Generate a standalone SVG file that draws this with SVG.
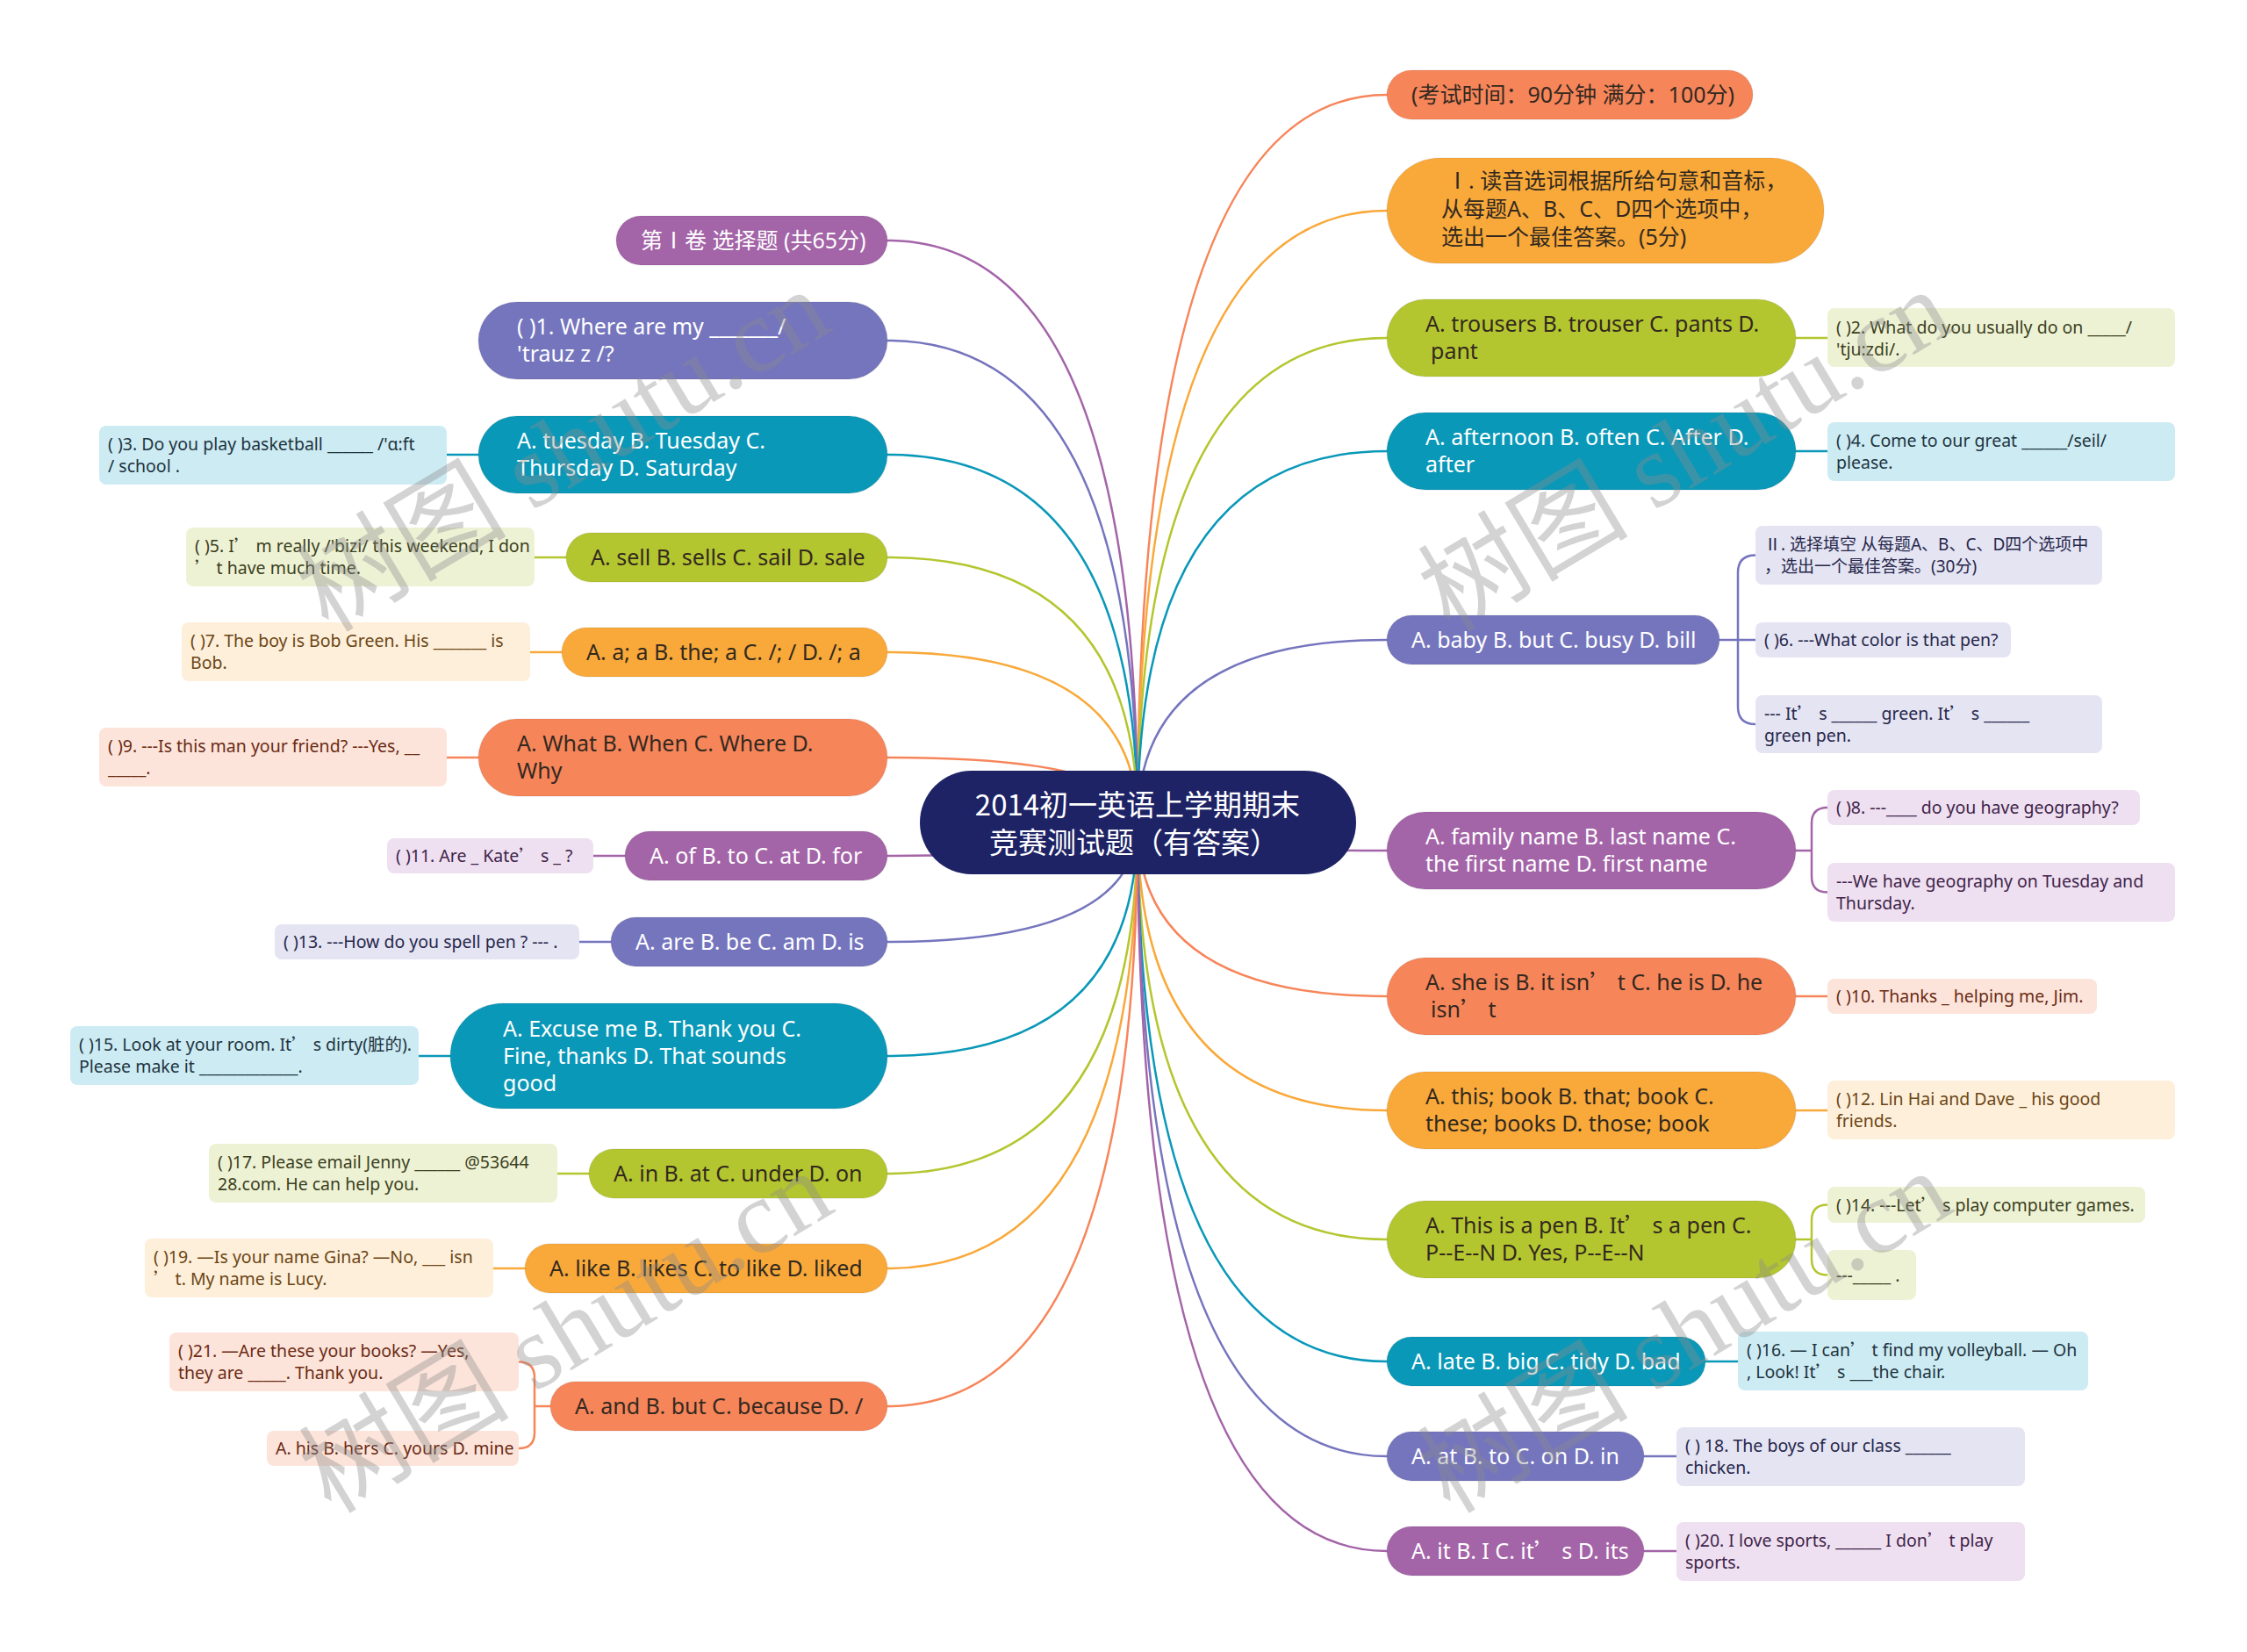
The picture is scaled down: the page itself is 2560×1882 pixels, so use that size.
<svg xmlns="http://www.w3.org/2000/svg" width="2560" height="1882" viewBox="0 0 2560 1882">
<style>
text{font-family:"Noto Sans","Noto Sans CJK SC",sans-serif}
.q{font-family:"Noto Sans CJK SC","Noto Sans",sans-serif}
.m{font-size:25px}
.s{font-size:19.5px}
.ti{font-size:33px;fill:#fff;font-family:"Noto Sans CJK SC","Noto Sans",sans-serif}
.wt{fill:#fff}
.dk{fill:#33291f}
.nd{stroke:#000;stroke-opacity:0.06;stroke-width:1.5}
.or{fill:#F7855A}.og{fill:#F9A93A}.yg{fill:#B4C62F}.tl{fill:#0A98B8}.pb{fill:#7575BE}.pu{fill:#A364A8}
.lor{fill:#FCE4DA}.log{fill:#FEEFDA}.lyg{fill:#EEF2D5}.ltl{fill:#CDEBF3}.lpb{fill:#E4E4F3}.lpu{fill:#EEE0F0}
.tor{fill:#6b2a14}.tog{fill:#6b4514}.tyg{fill:#3b4020}.ttl{fill:#1e3440}.tpb{fill:#27274a}.tpu{fill:#40234a}
.c{fill:none;stroke-width:2.5;stroke-linecap:round}
.cor{stroke:#F7855A}.cog{stroke:#F9A93A}.cyg{stroke:#B4C62F}.ctl{stroke:#0A98B8}.cpb{stroke:#7575BE}.cpu{stroke:#A364A8}
.wm{font-family:"Liberation Serif","Noto Sans CJK SC",serif;font-size:120px;fill:#8c8c8c;fill-opacity:0.38}
</style>
<rect width="2560" height="1882" fill="#fff"/>
<g id="connectors">
<path class="c cor" d="M1296,937 Q1296,108 1580,108"/>
<path class="c cog" d="M1296,937 Q1296,240 1580,240"/>
<path class="c cyg" d="M1296,937 Q1296,385 1580,385"/>
<path class="c ctl" d="M1296,937 Q1296,514 1580,514"/>
<path class="c cpb" d="M1296,937 Q1296,729 1580,729"/>
<path class="c cpu" d="M1296,937 Q1296,969 1580,969"/>
<path class="c cor" d="M1296,937 Q1296,1135 1580,1135"/>
<path class="c cog" d="M1296,937 Q1296,1265 1580,1265"/>
<path class="c cyg" d="M1296,937 Q1296,1412 1580,1412"/>
<path class="c ctl" d="M1296,937 Q1296,1551 1580,1551"/>
<path class="c cpb" d="M1296,937 Q1296,1659 1580,1659"/>
<path class="c cpu" d="M1296,937 Q1296,1767 1580,1767"/>
<path class="c cpu" d="M1296,937 Q1296,274 1011,274"/>
<path class="c cpb" d="M1296,937 Q1296,388 1011,388"/>
<path class="c ctl" d="M1296,937 Q1296,518 1011,518"/>
<path class="c cyg" d="M1296,937 Q1296,635 1011,635"/>
<path class="c cog" d="M1296,937 Q1296,743 1011,743"/>
<path class="c cor" d="M1296,937 Q1296,863 1011,863"/>
<path class="c cpu" d="M1296,937 Q1296,975 1011,975"/>
<path class="c cpb" d="M1296,937 Q1296,1073 1011,1073"/>
<path class="c ctl" d="M1296,937 Q1296,1203 1011,1203"/>
<path class="c cyg" d="M1296,937 Q1296,1337 1011,1337"/>
<path class="c cog" d="M1296,937 Q1296,1445 1011,1445"/>
<path class="c cor" d="M1296,937 Q1296,1602 1011,1602"/>
<path class="c cyg" d="M2046,385 H2082"/>
<path class="c ctl" d="M2046,514 H2082"/>
<path class="c cpb" d="M1959,729 H2000 M1980,729 V652.5 Q1980,632.5 2000,632.5 M1980,729 V805 Q1980,825 2000,825"/>
<path class="c cpu" d="M2046,969 H2064 M2064,969 V938 Q2064,920 2082,920 M2064,969 V998.5 Q2064,1016.5 2082,1016.5"/>
<path class="c cor" d="M2046,1135 H2082"/>
<path class="c cog" d="M2046,1265 H2082"/>
<path class="c cyg" d="M2046,1412 H2064 M2064,1412 V1390.5 Q2064,1372.5 2082,1372.5 M2064,1412 V1434.5 Q2064,1452.5 2082,1452.5"/>
<path class="c ctl" d="M1943,1551 H1980"/>
<path class="c cpb" d="M1873,1659 H1910"/>
<path class="c cpu" d="M1873,1767 H1910"/>
<path class="c ctl" d="M545,518 H509"/>
<path class="c cyg" d="M645,635 H609"/>
<path class="c cog" d="M640,743 H604"/>
<path class="c cor" d="M545,863 H509"/>
<path class="c cpu" d="M712,975 H676"/>
<path class="c cpb" d="M696,1073 H660"/>
<path class="c ctl" d="M513,1203 H477"/>
<path class="c cyg" d="M671,1337 H635"/>
<path class="c cog" d="M598,1445 H562"/>
<path class="c cor" d="M627,1602 H609 M609,1602 V1569.5 Q609,1551.5 591,1551.5 M609,1602 V1632 Q609,1650 591,1650"/>
</g>
<g id="center">
<rect x="1048" y="878" width="497" height="118" rx="59" fill="#1E2366"/>
<text class="ti" x="1296" y="929" text-anchor="middle">2014初一英语上学期期末</text>
<text class="ti" x="1292" y="972" text-anchor="middle">竞赛测试题（有答案）</text>
</g>
<g id="r1"><rect class="or nd" x="1580" y="80" width="417" height="56" rx="28"/><text class="m dk" x="1608" y="117">(考试时间：90分钟 满分：100分)</text></g>
<g id="r2"><rect class="og nd" x="1580" y="180" width="498" height="120" rx="60"/>
<text class="m dk" x="1648" y="215">Ⅰ. 读音选词根据所给句意和音标，</text>
<text class="m dk" x="1642" y="247">从每题A、B、C、D四个选项中，</text>
<text class="m dk" x="1642" y="279">选出一个最佳答案。(5分)</text></g>
<g id="r3"><rect class="yg nd" x="1580" y="341" width="466" height="88" rx="44"/>
<text class="m dk" x="1624" y="378">A. trousers B. trouser C. pants D.</text>
<text class="m dk" x="1630" y="409">pant</text></g>
<g id="r3c"><rect class="lyg" x="2082" y="351" width="396" height="67" rx="8"/>
<text class="s tyg" x="2092" y="380">( )2. What do you usually do on _____/</text>
<text class="s tyg" x="2092" y="405">'tju:zdi/.</text></g>
<g id="r4"><rect class="tl nd" x="1580" y="470" width="466" height="88" rx="44"/>
<text class="m wt" x="1624" y="507">A. afternoon B. often C. After D.</text>
<text class="m wt" x="1624" y="538">after</text></g>
<g id="r4c"><rect class="ltl" x="2082" y="481" width="396" height="67" rx="8"/>
<text class="s ttl" x="2092" y="509">( )4. Come to our great ______/seil/</text>
<text class="s ttl" x="2092" y="534">please.</text></g>
<g id="r5"><rect class="pb nd" x="1580" y="701" width="379" height="56" rx="28"/>
<text class="m wt" x="1608" y="738">A. baby B. but C. busy D. bill</text></g>
<g id="r5c1"><rect class="lpb" x="2000" y="599" width="395" height="67" rx="8"/>
<text class="s tpb" x="2010" y="627" style="font-size:19px">Ⅱ. 选择填空 从每题A、B、C、D四个选项中</text>
<text class="s tpb" x="2010" y="652" style="font-size:19px">，选出一个最佳答案。(30分)</text></g>
<g id="r5c2"><rect class="lpb" x="2000" y="709" width="291" height="40" rx="8"/>
<text class="s tpb" x="2010" y="736">( )6. ---What color is that pen?</text></g>
<g id="r5c3"><rect class="lpb" x="2000" y="792" width="395" height="66" rx="8"/>
<text class="s tpb" x="2010" y="820">--- It<tspan class="q">’</tspan> s ______ green. It<tspan class="q">’</tspan> s ______</text>
<text class="s tpb" x="2010" y="845">green pen.</text></g>
<g id="r6"><rect class="pu nd" x="1580" y="925" width="466" height="88" rx="44"/>
<text class="m wt" x="1624" y="962">A. family name B. last name C.</text>
<text class="m wt" x="1624" y="993">the first name D. first name</text></g>
<g id="r6c1"><rect class="lpu" x="2082" y="900" width="356" height="40" rx="8"/>
<text class="s tpu" x="2092" y="927">( )8. ---____ do you have geography?</text></g>
<g id="r6c2"><rect class="lpu" x="2082" y="983" width="396" height="67" rx="8"/>
<text class="s tpu" x="2092" y="1011">---We have geography on Tuesday and</text>
<text class="s tpu" x="2092" y="1036">Thursday.</text></g>
<g id="r7"><rect class="or nd" x="1580" y="1091" width="466" height="88" rx="44"/>
<text class="m dk" x="1624" y="1128">A. she is B. it isn<tspan class="q">’</tspan> t C. he is D. he</text>
<text class="m dk" x="1630" y="1159">isn<tspan class="q">’</tspan> t</text></g>
<g id="r7c"><rect class="lor" x="2082" y="1115" width="307" height="40" rx="8"/>
<text class="s tor" x="2092" y="1142">( )10. Thanks _ helping me, Jim.</text></g>
<g id="r8"><rect class="og nd" x="1580" y="1221" width="466" height="88" rx="44"/>
<text class="m dk" x="1624" y="1258">A. this; book B. that; book C.</text>
<text class="m dk" x="1624" y="1289">these; books D. those; book</text></g>
<g id="r8c"><rect class="log" x="2082" y="1231" width="396" height="67" rx="8"/>
<text class="s tog" x="2092" y="1259">( )12. Lin Hai and Dave _ his good</text>
<text class="s tog" x="2092" y="1284">friends.</text></g>
<g id="r9"><rect class="yg nd" x="1580" y="1368" width="466" height="88" rx="44"/>
<text class="m dk" x="1624" y="1405">A. This is a pen B. It<tspan class="q">’</tspan> s a pen C.</text>
<text class="m dk" x="1624" y="1436">P--E--N D. Yes, P--E--N</text></g>
<g id="r9c1"><rect class="lyg" x="2082" y="1352" width="362" height="41" rx="8"/>
<text class="s tyg" x="2092" y="1380">( )14. ---Let<tspan class="q">’</tspan> s play computer games.</text></g>
<g id="r9c2"><rect class="lyg" x="2082" y="1424" width="101" height="57" rx="8"/>
<text class="s tyg" x="2092" y="1460">---_____ .</text></g>
<g id="r10"><rect class="tl nd" x="1580" y="1523" width="363" height="56" rx="28"/>
<text class="m wt" x="1608" y="1560">A. late B. big C. tidy D. bad</text></g>
<g id="r10c"><rect class="ltl" x="1980" y="1517" width="399" height="67" rx="8"/>
<text class="s ttl" x="1990" y="1545">( )16. — I can<tspan class="q">’</tspan> t find my volleyball. — Oh</text>
<text class="s ttl" x="1990" y="1570">, Look! It<tspan class="q">’</tspan> s ___the chair.</text></g>
<g id="r11"><rect class="pb nd" x="1580" y="1631" width="293" height="56" rx="28"/>
<text class="m wt" x="1608" y="1668">A. at B. to C. on D. in</text></g>
<g id="r11c"><rect class="lpb" x="1910" y="1626" width="397" height="67" rx="8"/>
<text class="s tpb" x="1920" y="1654">( ) 18. The boys of our class ______</text>
<text class="s tpb" x="1920" y="1679">chicken.</text></g>
<g id="r12"><rect class="pu nd" x="1580" y="1739" width="293" height="56" rx="28"/>
<text class="m wt" x="1608" y="1776">A. it B. I C. it<tspan class="q">’</tspan> s D. its</text></g>
<g id="r12c"><rect class="lpu" x="1910" y="1734" width="397" height="67" rx="8"/>
<text class="s tpu" x="1920" y="1762">( )20. I love sports, ______ I don<tspan class="q">’</tspan> t play</text>
<text class="s tpu" x="1920" y="1787">sports.</text></g>
<g id="l1"><rect class="pu nd" x="702" y="246" width="309" height="56" rx="28"/>
<text class="m wt" x="730" y="283">第Ⅰ卷 选择题 (共65分)</text></g>
<g id="l2"><rect class="pb nd" x="545" y="344" width="466" height="88" rx="44"/>
<text class="m wt" x="589" y="381">( )1. Where are my _______/</text>
<text class="m wt" x="589" y="412">'trauz z /?</text></g>
<g id="l3"><rect class="tl nd" x="545" y="474" width="466" height="88" rx="44"/>
<text class="m wt" x="589" y="511">A. tuesday B. Tuesday C.</text>
<text class="m wt" x="589" y="542">Thursday D. Saturday</text></g>
<g id="l3c"><rect class="ltl" x="113" y="485" width="396" height="67" rx="8"/>
<text class="s ttl" x="123" y="513">( )3. Do you play basketball ______ /'ɑ:ft</text>
<text class="s ttl" x="123" y="538">/ school .</text></g>
<g id="l4"><rect class="yg nd" x="645" y="607" width="366" height="56" rx="28"/>
<text class="m dk" x="673" y="644">A. sell B. sells C. sail D. sale</text></g>
<g id="l4c"><rect class="lyg" x="212" y="601" width="397" height="67" rx="8"/>
<text class="s tyg" x="222" y="629">( )5. I<tspan class="q">’</tspan> m really /'bizi/ this weekend, I don</text>
<text class="s tyg" x="222" y="654"><tspan class="q">’</tspan> t have much time.</text></g>
<g id="l5"><rect class="og nd" x="640" y="715" width="371" height="56" rx="28"/>
<text class="m dk" x="668" y="752">A. a; a B. the; a C. /; / D. /; a</text></g>
<g id="l5c"><rect class="log" x="207" y="709" width="397" height="67" rx="8"/>
<text class="s tog" x="217" y="737">( )7. The boy is Bob Green. His _______ is</text>
<text class="s tog" x="217" y="762">Bob.</text></g>
<g id="l6"><rect class="or nd" x="545" y="819" width="466" height="88" rx="44"/>
<text class="m dk" x="589" y="856">A. What B. When C. Where D.</text>
<text class="m dk" x="589" y="887">Why</text></g>
<g id="l6c"><rect class="lor" x="113" y="829" width="396" height="67" rx="8"/>
<text class="s tor" x="123" y="857">( )9. ---Is this man your friend? ---Yes, __</text>
<text class="s tor" x="123" y="882">_____.</text></g>
<g id="l7"><rect class="pu nd" x="712" y="947" width="299" height="56" rx="28"/>
<text class="m wt" x="740" y="984">A. of B. to C. at D. for</text></g>
<g id="l7c"><rect class="lpu" x="441" y="955" width="235" height="40" rx="8"/>
<text class="s tpu" x="451" y="982">( )11. Are _ Kate<tspan class="q">’</tspan> s _ ?</text></g>
<g id="l8"><rect class="pb nd" x="696" y="1045" width="315" height="56" rx="28"/>
<text class="m wt" x="724" y="1082">A. are B. be C. am D. is</text></g>
<g id="l8c"><rect class="lpb" x="313" y="1053" width="347" height="40" rx="8"/>
<text class="s tpb" x="323" y="1080">( )13. ---How do you spell pen ? --- .</text></g>
<g id="l9"><rect class="tl nd" x="513" y="1143" width="498" height="120" rx="60"/>
<text class="m wt" x="573" y="1181">A. Excuse me B. Thank you C.</text>
<text class="m wt" x="573" y="1212">Fine, thanks D. That sounds</text>
<text class="m wt" x="573" y="1243">good</text></g>
<g id="l9c"><rect class="ltl" x="80" y="1169" width="397" height="67" rx="8"/>
<text class="s ttl" x="90" y="1197">( )15. Look at your room. It<tspan class="q">’</tspan> s dirty(脏的).</text>
<text class="s ttl" x="90" y="1222">Please make it _____________.</text></g>
<g id="l10"><rect class="yg nd" x="671" y="1309" width="340" height="56" rx="28"/>
<text class="m dk" x="699" y="1346">A. in B. at C. under D. on</text></g>
<g id="l10c"><rect class="lyg" x="238" y="1303" width="397" height="67" rx="8"/>
<text class="s tyg" x="248" y="1331">( )17. Please email Jenny ______ @53644</text>
<text class="s tyg" x="248" y="1356">28.com. He can help you.</text></g>
<g id="l11"><rect class="og nd" x="598" y="1417" width="413" height="56" rx="28"/>
<text class="m dk" x="626" y="1454">A. like B. likes C. to like D. liked</text></g>
<g id="l11c"><rect class="log" x="165" y="1411" width="397" height="67" rx="8"/>
<text class="s tog" x="175" y="1439">( )19. —Is your name Gina? —No, ___ isn</text>
<text class="s tog" x="175" y="1464"><tspan class="q">’</tspan> t. My name is Lucy.</text></g>
<g id="l12"><rect class="or nd" x="627" y="1574" width="384" height="56" rx="28"/>
<text class="m dk" x="655" y="1611">A. and B. but C. because D. /</text></g>
<g id="l12c1"><rect class="lor" x="193" y="1518" width="398" height="67" rx="8"/>
<text class="s tor" x="203" y="1546">( )21. —Are these your books? —Yes,</text>
<text class="s tor" x="203" y="1571">they are _____. Thank you.</text></g>
<g id="l12c2"><rect class="lor" x="304" y="1630" width="287" height="40" rx="8"/>
<text class="s tor" x="314" y="1657">A. his B. hers C. yours D. mine</text></g>
<g id="watermarks">
<text class="wm" transform="translate(642,514) rotate(-31)" x="0" y="40" text-anchor="middle">树图 shutu.cn</text>
<text class="wm" transform="translate(1920,514) rotate(-31)" x="0" y="40" text-anchor="middle">树图 shutu.cn</text>
<text class="wm" transform="translate(645,1518) rotate(-31)" x="0" y="40" text-anchor="middle">树图 shutu.cn</text>
<text class="wm" transform="translate(1920,1518) rotate(-31)" x="0" y="40" text-anchor="middle">树图 shutu.cn</text>
</g>
</svg>
